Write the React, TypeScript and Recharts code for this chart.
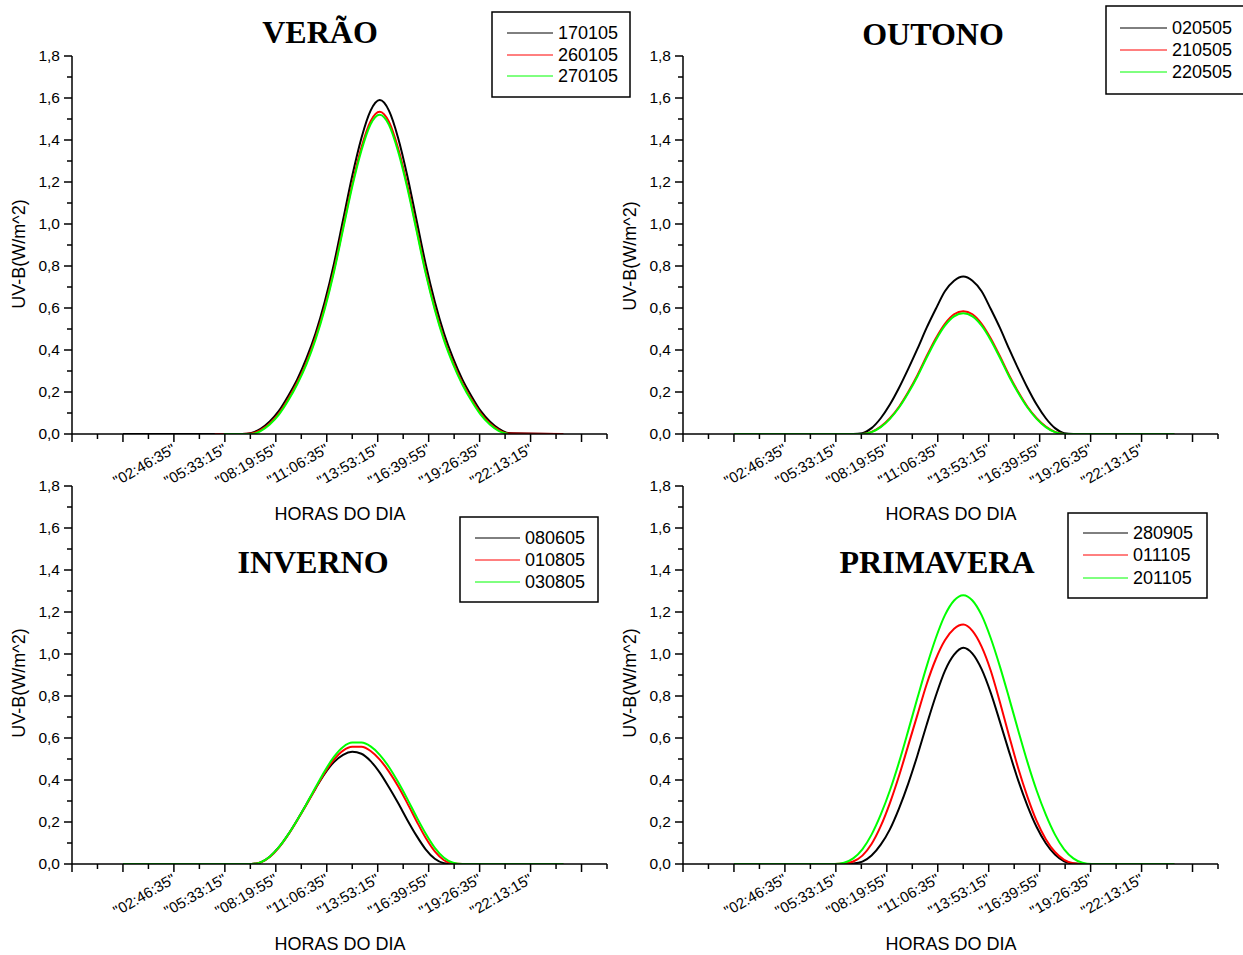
import React from 'react';
import { LineChart, Line, XAxis, YAxis } from 'recharts';

// ---- data (hours of day) ----
const HOURS = [0, 5, 5.5, 6, 6.5, 7, 7.5, 8, 8.5, 9, 9.5, 10, 10.5, 11, 11.5, 12, 12.5, 13, 13.5, 14, 14.5, 15, 15.5, 16, 16.5, 17, 17.5, 18, 18.5, 19, 19.5, 20, 20.5, 21, 24];

const VERAO_NAMES = ['170105', '260105', '270105'];
const VERAO_170105 = [0, 0, 0, 0, 0, 0.005, 0.025, 0.06, 0.11, 0.18, 0.26, 0.36, 0.48, 0.63, 0.81, 1.02, 1.23, 1.41, 1.54, 1.59, 1.54, 1.41, 1.23, 1.02, 0.81, 0.63, 0.48, 0.36, 0.26, 0.18, 0.11, 0.06, 0.025, 0.005, 0];
const VERAO_260105 = [null, 0, 0, 0, 0, 0.002, 0.018, 0.05, 0.098, 0.165, 0.245, 0.34, 0.46, 0.605, 0.78, 0.985, 1.19, 1.365, 1.49, 1.535, 1.487, 1.36, 1.185, 0.98, 0.775, 0.6, 0.455, 0.34, 0.243, 0.165, 0.098, 0.05, 0.018, 0.002, 0];
const VERAO_270105 = [null, null, 0, 0, 0, 0, 0.014, 0.045, 0.092, 0.158, 0.237, 0.332, 0.45, 0.595, 0.77, 0.975, 1.178, 1.35, 1.475, 1.52, 1.472, 1.345, 1.172, 0.97, 0.766, 0.592, 0.447, 0.332, 0.236, 0.158, 0.092, 0.045, 0.014, 0, null];

const OUTONO_NAMES = ['020505', '210505', '220505'];
const OUTONO_020505 = [0, 0, 0, 0, 0, 0.004, 0.028, 0.075, 0.14, 0.22, 0.31, 0.405, 0.505, 0.595, 0.68, 0.73, 0.75, 0.73, 0.68, 0.595, 0.505, 0.405, 0.31, 0.22, 0.14, 0.075, 0.028, 0.004, 0, 0, 0, 0, 0, 0, 0];
const OUTONO_210505 = [0, 0, 0, 0, 0, 0, 0.01, 0.035, 0.075, 0.13, 0.2, 0.28, 0.37, 0.455, 0.525, 0.57, 0.585, 0.57, 0.525, 0.455, 0.37, 0.28, 0.2, 0.13, 0.075, 0.035, 0.01, 0, 0, 0, 0, 0, 0, 0, 0];
const OUTONO_220505 = [0, 0, 0, 0, 0, 0, 0.009, 0.033, 0.072, 0.126, 0.195, 0.274, 0.363, 0.447, 0.516, 0.56, 0.575, 0.56, 0.516, 0.447, 0.363, 0.274, 0.195, 0.126, 0.072, 0.033, 0.009, 0, 0, 0, 0, 0, 0, 0, 0];

const INVERNO_NAMES = ['080605', '010805', '030805'];
const INVERNO_080605 = [0, 0, 0, 0, 0, 0, 0.008, 0.035, 0.08, 0.14, 0.21, 0.285, 0.36, 0.43, 0.485, 0.52, 0.534, 0.525, 0.49, 0.435, 0.365, 0.29, 0.21, 0.135, 0.07, 0.025, 0.004, 0, 0, 0, 0, 0, 0, 0, 0];
const INVERNO_010805 = [0, 0, 0, 0, 0, 0, 0.007, 0.033, 0.078, 0.138, 0.208, 0.282, 0.36, 0.435, 0.497, 0.54, 0.558, 0.558, 0.538, 0.497, 0.44, 0.37, 0.29, 0.205, 0.125, 0.06, 0.018, 0.002, 0, 0, 0, 0, 0, 0, 0];
const INVERNO_030805 = [0, 0, 0, 0, 0, 0, 0.008, 0.035, 0.08, 0.14, 0.21, 0.285, 0.365, 0.443, 0.51, 0.557, 0.578, 0.578, 0.56, 0.52, 0.462, 0.39, 0.31, 0.225, 0.145, 0.077, 0.03, 0.006, 0, 0, 0, 0, 0, 0, 0];

const PRIMAVERA_NAMES = ['280905', '011105', '201105'];
const PRIMAVERA_280905 = [0, 0, 0, 0, 0.002, 0.011, 0.04, 0.092, 0.165, 0.265, 0.383, 0.517, 0.662, 0.8, 0.92, 0.997, 1.03, 1.002, 0.928, 0.815, 0.677, 0.534, 0.397, 0.277, 0.176, 0.099, 0.045, 0.013, 0.002, 0, 0, 0, 0, 0, 0];
const PRIMAVERA_011105 = [0, 0, 0, 0.002, 0.012, 0.04, 0.095, 0.18, 0.29, 0.42, 0.565, 0.71, 0.855, 0.975, 1.065, 1.12, 1.14, 1.11, 1.035, 0.92, 0.77, 0.61, 0.455, 0.32, 0.205, 0.118, 0.057, 0.02, 0.004, 0, 0, 0, 0, 0, 0];
const PRIMAVERA_201105 = [0, 0, 0, 0.006, 0.027, 0.07, 0.14, 0.235, 0.35, 0.485, 0.635, 0.79, 0.94, 1.075, 1.185, 1.255, 1.28, 1.255, 1.185, 1.075, 0.94, 0.79, 0.635, 0.485, 0.35, 0.235, 0.14, 0.07, 0.027, 0.006, 0, 0, 0, 0, 0];

const SERIES_COLORS = ['#000000', '#ff0000', '#00ff00'];

const X_TICK_LABELS = ['"02:46:35"', '"05:33:15"', '"08:19:55"', '"11:06:35"', '"13:53:15"', '"16:39:55"', '"19:26:35"', '"22:13:15"'];
const X_FIRST_TICK_SEC = -10005;
const X_TICK_STEP_SEC = 5000;
const X_TICK_COUNT = 22;
const X_DOMAIN: [number, number] = [-10005 / 3600, 94995 / 3600];

const Y_TICKS = [0, 0.1, 0.2, 0.3, 0.4, 0.5, 0.6, 0.7, 0.8, 0.9, 1.0, 1.1, 1.2, 1.3, 1.4, 1.5, 1.6, 1.7, 1.8];
const Y_TICK_LABELS = ['0,0', '0,2', '0,4', '0,6', '0,8', '1,0', '1,2', '1,4', '1,6', '1,8'];

const X_TICKS = Array.from({ length: X_TICK_COUNT }, (_, k) => (X_FIRST_TICK_SEC + X_TICK_STEP_SEC * k) / 3600);

const SANS = '"Liberation Sans", Arial, sans-serif';
const SERIF = '"Liberation Serif", "Times New Roman", serif';

function XTick(props: any) {
  const { x, y, payload } = props;
  const k = Math.round((payload.value * 3600 - X_FIRST_TICK_SEC) / X_TICK_STEP_SEC);
  const major = k % 2 === 0;
  const li = (k - 4) / 2;
  const label = major && li >= 0 && li < X_TICK_LABELS.length ? X_TICK_LABELS[li] : null;
  const tx = x + 3;
  const ty = y + 18;
  return (
    <g>
      <line x1={x} y1={y} x2={x} y2={y + (major ? 8 : 5)} stroke="#000" strokeWidth={1.5} />
      {label && (
        <text x={tx} y={ty} textAnchor="end" fontSize={15} fontFamily={SANS} fill="#000" transform={`rotate(-30 ${tx} ${ty})`}>
          {label}
        </text>
      )}
    </g>
  );
}

function YTick(props: any) {
  const { x, y, payload } = props;
  const t = Math.round(payload.value * 10);
  const major = t % 2 === 0;
  return (
    <g>
      <line x1={x} y1={y} x2={x - (major ? 8 : 5)} y2={y} stroke="#000" strokeWidth={1.5} />
      {major && (
        <text x={x - 12} y={y + 5} textAnchor="end" fontSize={15.5} fontFamily={SANS} fill="#000">
          {Y_TICK_LABELS[t / 2]}
        </text>
      )}
    </g>
  );
}

type PanelProps = { left: number; top: number; names: string[]; series: (number | null)[][] };

function Panel({ left, top, names, series }: PanelProps) {
  const data = HOURS.map((h, i) => {
    const row: any = { h };
    names.forEach((n, j) => {
      row[n] = series[j][i];
    });
    return row;
  });
  return (
    <div style={{ position: 'absolute', left, top }}>
      <LineChart width={620} height={520} data={data} margin={{ top: 56, right: 13, left: 12, bottom: 56 }}>
        <XAxis
          dataKey="h"
          type="number"
          domain={X_DOMAIN}
          ticks={X_TICKS}
          interval={0}
          tick={<XTick />}
          tickLine={false}
          tickSize={0}
          tickMargin={0}
          height={30}
          axisLine={{ stroke: '#000', strokeWidth: 1.5 }}
          allowDataOverflow
        />
        <YAxis
          type="number"
          domain={[0, 1.8]}
          ticks={Y_TICKS}
          interval={0}
          tick={<YTick />}
          tickLine={false}
          tickSize={0}
          tickMargin={0}
          width={60}
          axisLine={{ stroke: '#000', strokeWidth: 1.5 }}
          allowDataOverflow
        />
        {names.map((n, j) => (
          <Line
            key={n}
            dataKey={n}
            type="monotone"
            stroke={SERIES_COLORS[j]}
            strokeWidth={2}
            dot={false}
            isAnimationActive={false}
            connectNulls={false}
          />
        ))}
      </LineChart>
    </div>
  );
}

function LegendBox({ x, y, w, h, names, rowY, lineX1, lineX2 }: any) {
  return (
    <g>
      <rect x={x} y={y} width={w} height={h} fill="#fff" stroke="#000" strokeWidth={1.5} />
      {names.map((n: string, j: number) => (
        <g key={n}>
          <line x1={lineX1} x2={lineX2} y1={rowY[j]} y2={rowY[j]} stroke={SERIES_COLORS[j]} strokeWidth={1} />
          <text x={lineX2 + 5} y={rowY[j] + 6} fontSize={18} fontFamily={SANS} fill="#000">
            {n}
          </text>
        </g>
      ))}
    </g>
  );
}

function Overlay() {
  const ylab = (x: number, y: number) => (
    <text x={x} y={y} textAnchor="middle" fontSize={18} fontFamily={SANS} transform={`rotate(-90 ${x} ${y})`}>
      UV-B(W/m^2)
    </text>
  );
  const xlab = (x: number, y: number) => (
    <text x={x} y={y} textAnchor="middle" fontSize={18} fontFamily={SANS}>
      HORAS DO DIA
    </text>
  );
  const title = (x: number, y: number, s: string) => (
    <text x={x} y={y} textAnchor="middle" fontSize={32} fontWeight="bold" fontFamily={SERIF}>
      {s}
    </text>
  );
  return (
    <svg width={1243} height={955} style={{ position: 'absolute', left: 0, top: 0, pointerEvents: 'none' }}>
      {title(320, 43, 'VERÃO')}
      {title(933, 45, 'OUTONO')}
      {title(313, 573, 'INVERNO')}
      {title(937, 573, 'PRIMAVERA')}
      {ylab(25, 254)}
      {ylab(636, 256)}
      {ylab(25, 683)}
      {ylab(636, 683)}
      {xlab(340, 520)}
      {xlab(951, 520)}
      {xlab(340, 950)}
      {xlab(951, 950)}
      <LegendBox x={492} y={12} w={138} h={85} names={VERAO_NAMES} rowY={[33, 55, 76]} lineX1={507} lineX2={553} />
      <LegendBox x={1106} y={6} w={140} h={88} names={OUTONO_NAMES} rowY={[28, 50, 72]} lineX1={1120} lineX2={1167} />
      <LegendBox x={460} y={517} w={138} h={85} names={INVERNO_NAMES} rowY={[538, 560, 582]} lineX1={475} lineX2={520} />
      <LegendBox x={1068} y={513} w={139} h={85} names={PRIMAVERA_NAMES} rowY={[533, 555, 578]} lineX1={1083} lineX2={1128} />
    </svg>
  );
}

export default function App() {
  return (
    <div style={{ position: 'absolute', left: 0, top: 0, width: 1243, height: 955, background: '#fff', overflow: 'hidden' }}>
      <Panel left={0} top={0} names={VERAO_NAMES} series={[VERAO_170105, VERAO_260105, VERAO_270105]} />
      <Panel left={611} top={0} names={OUTONO_NAMES} series={[OUTONO_020505, OUTONO_210505, OUTONO_220505]} />
      <Panel left={0} top={430} names={INVERNO_NAMES} series={[INVERNO_080605, INVERNO_010805, INVERNO_030805]} />
      <Panel left={611} top={430} names={PRIMAVERA_NAMES} series={[PRIMAVERA_280905, PRIMAVERA_011105, PRIMAVERA_201105]} />
      <Overlay />
    </div>
  );
}
